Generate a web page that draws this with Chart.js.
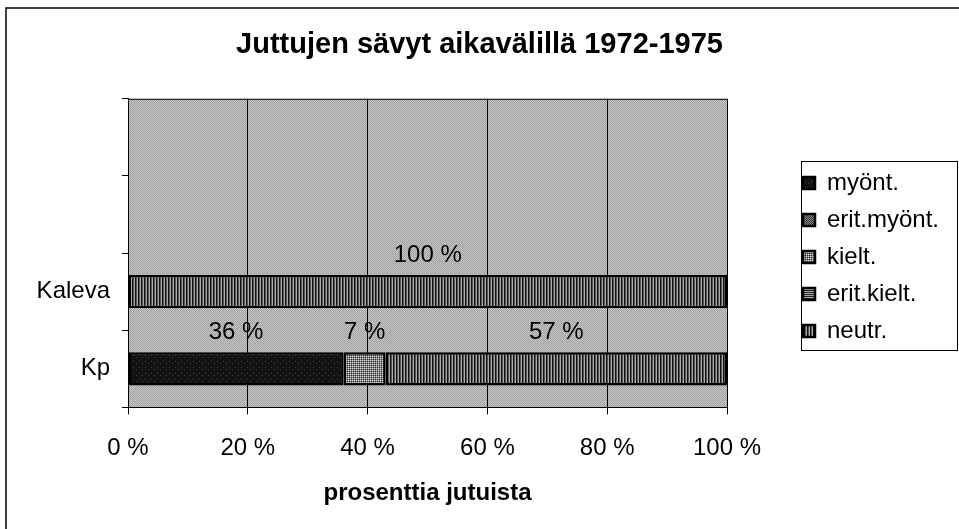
<!DOCTYPE html>
<html>
<head>
<meta charset="utf-8">
<title>Juttujen sävyt aikavälillä 1972-1975</title>
<script src="https://cdn.jsdelivr.net/npm/chart.js@4.4.1/dist/chart.umd.min.js"></script>
<style>
  html, body { margin: 0; padding: 0; background: #fff; }
  #wrap { width: 959px; height: 529px; }
</style>
</head>
<body>
<div id="wrap"><canvas id="chart" width="959" height="529"></canvas></div>
<script>
// rows top to bottom, the two upper rows are empty in the original
const categories = ['', ' ', 'Kaleva', 'Kp'];
const seriesNames = ['myönt.', 'erit.myönt.', 'kielt.', 'erit.kielt.', 'neutr.'];
// share of stories (%)
const myont = [null, null, 0, 36];
const eritMyont = [null, null, 0, 0];
const kielt = [null, null, 0, 7];
const eritKielt = [null, null, 0, 0];
const neutr = [null, null, 100, 57];
const xTicks = [0, 20, 40, 60, 80, 100];

const FONT = "'Liberation Sans', Arial, sans-serif";
Chart.defaults.font.family = FONT;
Chart.defaults.color = '#000';

const canvas = document.getElementById('chart');
const ctx = canvas.getContext('2d');

// small tiles to imitate the printed hatch patterns
function makePattern(w, h, base, paint) {
  const c = document.createElement('canvas');
  c.width = w; c.height = h;
  const g = c.getContext('2d');
  g.fillStyle = base;
  g.fillRect(0, 0, w, h);
  paint(g);
  return ctx.createPattern(c, 'repeat');
}

const bgPattern = makePattern(4, 4, '#c8c8c8', g => {
  g.fillStyle = '#9e9e9e';
  for (let y = 0; y < 4; y++) for (let x = 0; x < 4; x++) if ((x + y) % 2 === 0) g.fillRect(x, y, 1, 1);
});
const fills = [
  makePattern(6, 6, '#121212', g => { g.fillStyle = '#444444'; g.fillRect(1, 1, 1, 1); g.fillRect(4, 3, 1, 1); }),
  makePattern(2, 2, '#888888', g => { g.fillStyle = '#333333'; g.fillRect(0, 0, 1, 1); g.fillRect(1, 1, 1, 1); }),
  makePattern(2, 2, '#888888', g => { g.fillStyle = '#d4d4d4'; g.fillRect(0, 0, 1, 1); g.fillStyle = '#2a2a2a'; g.fillRect(1, 1, 1, 1); }),
  makePattern(2, 2, '#aaaaaa', g => { g.fillStyle = '#222222'; g.fillRect(0, 0, 2, 1); }),
  makePattern(3, 3, '#111111', g => { g.fillStyle = '#555555'; g.fillRect(1, 0, 1, 3); g.fillStyle = '#aaaaaa'; g.fillRect(2, 0, 1, 3); })
];

const seriesData = [myont, eritMyont, kielt, eritKielt, neutr];

const frame = {
  id: 'frame',
  beforeLayout(chart) {
    // reserve the right-hand strip for the legend box
    const lg = chart.legend;
    if (lg && !lg._fixedWidth) {
      const fit = lg.fit;
      lg.fit = function () { fit.call(this); if (this.width) this.width = 232; };
      lg._fixedWidth = true;
    }
  },
  afterLayout(chart) {
    const lg = chart.legend;
    lg.left = 790; lg.right = 790 + lg.width;
    lg.top = 137; lg.bottom = 137 + 240;
  },
  beforeDraw(chart) {
    const a = chart.chartArea, c = chart.ctx;
    c.save();
    c.fillStyle = bgPattern;
    c.fillRect(a.left, a.top, a.right - a.left, a.bottom - a.top);
    c.restore();
  },
  afterDraw(chart) {
    const a = chart.chartArea, c = chart.ctx;
    c.save();
    c.strokeStyle = '#000';
    c.lineWidth = 1;
    c.beginPath();
    c.moveTo(a.left, a.top + 0.5); c.lineTo(a.right, a.top + 0.5);
    c.stroke();
    c.strokeRect(801.5, 161.5, 156, 189);
    c.lineWidth = 1.5;
    c.strokeRect(6, 8, 980, 560);
    c.restore();
  }
};

const valueLabels = {
  id: 'valueLabels',
  afterDatasetsDraw(chart) {
    const c = chart.ctx;
    c.save();
    c.font = '24px ' + FONT;
    c.fillStyle = '#000';
    c.textAlign = 'center';
    c.textBaseline = 'middle';
    chart.data.datasets.forEach((ds, i) => {
      chart.getDatasetMeta(i).data.forEach((bar, j) => {
        const v = ds.data[j];
        if (!v) return;
        c.fillText(v + ' %', (bar.x + bar.base) / 2, bar.y - 36);
      });
    });
    c.restore();
  }
};

new Chart(ctx, {
  type: 'bar',
  data: {
    labels: categories,
    datasets: seriesNames.map((name, i) => ({
      label: name,
      data: seriesData[i],
      backgroundColor: fills[i],
      borderColor: '#000',
      borderWidth: 2.5,
      borderSkipped: false,
      barPercentage: 0.43,
      categoryPercentage: 1
    }))
  },
  options: {
    indexAxis: 'y',
    responsive: false,
    animation: false,
    layout: { padding: { left: 0, right: 0, top: 0, bottom: 21 } },
    plugins: {
      title: {
        display: true,
        text: 'Juttujen sävyt aikavälillä 1972-1975',
        color: '#000',
        font: { size: 29, weight: 'bold' },
        padding: { top: 28, bottom: 36 }
      },
      legend: {
        position: 'right',
        fullSize: false,
        labels: { font: { size: 24 }, boxWidth: 12, boxHeight: 12, padding: 13, color: '#000' }
      },
      tooltip: { enabled: false }
    },
    scales: {
      x: {
        stacked: true,
        min: 0,
        max: 100,
        afterBuildTicks: axis => { axis.ticks = xTicks.map(v => ({ value: v })); },
        ticks: { font: { size: 24 }, padding: 20, callback: v => v + ' %' },
        grid: { color: '#000', lineWidth: 1, tickLength: 7 },
        border: { color: '#000', width: 1 },
        title: {
          display: true,
          text: 'prosenttia jutuista',
          font: { size: 24, weight: 'bold' },
          padding: { top: -4, bottom: 0 }
        }
      },
      y: {
        stacked: true,
        afterFit: axis => { axis.width = 128; },
        ticks: { font: { size: 24 }, padding: 12 },
        grid: { color: '#000', drawOnChartArea: false, tickLength: 6, offset: true },
        border: { color: '#000', width: 1 }
      }
    }
  },
  plugins: [frame, valueLabels]
});
</script>
</body>
</html>
